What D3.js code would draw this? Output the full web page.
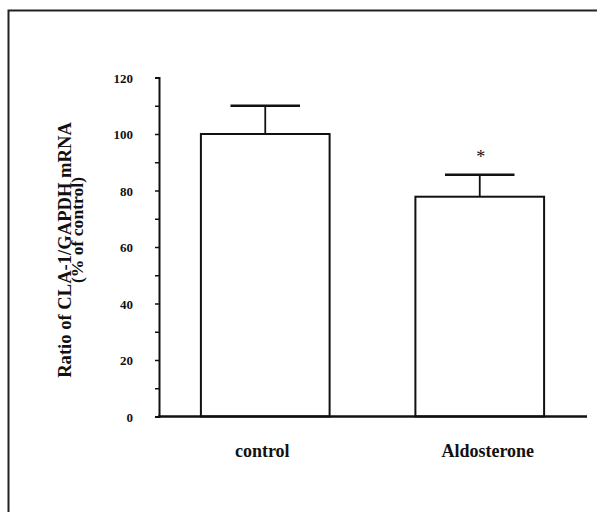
<!DOCTYPE html>
<html lang="en">
<head>
  <meta charset="UTF-8">
  <title>CLA-1 / GAPDH mRNA</title>
  <style>
    body { margin: 0; padding: 0; background: #fff; }
    text { font-family: "Liberation Serif", "DejaVu Serif", serif; font-weight: bold; fill: #111; }
  </style>
</head>
<body>
<svg width="597" height="512"></svg>
<script src="https://d3js.org/d3.v7.min.js"></script>
<script>
// data
const groups = ["control", "Aldosterone"];
const means = [100, 77.8];
const errors = [10, 7.8];
const signif = ["", "*"];
const yTicks = [0, 20, 40, 60, 80, 100, 120];

const svg = d3.select("svg");

// frame around the figure (right and bottom edges fall outside the picture)
svg.append("rect")
  .attr("x", 8.5).attr("y", 10.5)
  .attr("width", 700).attr("height", 700)
  .attr("fill", "none")
  .attr("stroke", "#222")
  .attr("stroke-width", 2);

const y = d3.scaleLinear().domain([0, 120]).range([416.5, 77.5]);
const x = d3.scaleBand().domain(groups)
  .range([158, 587])
  .paddingInner(0.4)
  .paddingOuter(0.2);

// y axis, ticks every 10, labels every 20
const yAxis = d3.axisLeft(y)
  .tickValues(d3.range(0, 121, 10))
  .tickSize(4)
  .tickFormat(d => yTicks.includes(d) ? d : "");

const gy = svg.append("g")
  .attr("transform", "translate(159,0)")
  .attr("font-family", "'Liberation Serif', serif")
  .attr("font-size", 13)
  .call(yAxis);
gy.attr("font-family", "'Liberation Serif', serif").attr("font-size", 13);
gy.select(".domain").attr("stroke", "#111").attr("stroke-width", 2);
gy.selectAll(".tick line").attr("stroke", "#111").attr("stroke-width", 1.5);
gy.selectAll(".tick text")
  .attr("x", -26)
  .attr("dy", "0.36em")
  .style("font-family", "'Liberation Serif', serif")
  .style("font-weight", "bold")
  .style("font-size", "13px")
  .attr("fill", "#111");

// bars
svg.selectAll("rect.bar")
  .data(groups)
  .join("rect")
  .attr("class", "bar")
  .attr("x", d => x(d))
  .attr("y", (d, i) => y(means[i]))
  .attr("width", x.bandwidth())
  .attr("height", (d, i) => y(0) - y(means[i]))
  .attr("fill", "#fff")
  .attr("stroke", "#111")
  .attr("stroke-width", 2);

// x baseline
svg.append("line")
  .attr("x1", 158).attr("x2", 587)
  .attr("y1", y(0)).attr("y2", y(0))
  .attr("stroke", "#111")
  .attr("stroke-width", 2.5);

// error bars (upper only)
const cx = d => x(d) + x.bandwidth() / 2;
const capW = x.bandwidth() * 0.27;
const err = svg.append("g");
err.selectAll("line.stem")
  .data(groups)
  .join("line")
  .attr("x1", cx).attr("x2", cx)
  .attr("y1", (d, i) => y(means[i]))
  .attr("y2", (d, i) => y(means[i] + errors[i]))
  .attr("stroke", "#111").attr("stroke-width", 1.8);
err.selectAll("line.cap")
  .data(groups)
  .join("line")
  .attr("x1", d => cx(d) - capW).attr("x2", d => cx(d) + capW)
  .attr("y1", (d, i) => y(means[i] + errors[i]))
  .attr("y2", (d, i) => y(means[i] + errors[i]))
  .attr("stroke", "#111").attr("stroke-width", 2.5);

// significance mark
svg.selectAll("text.sig")
  .data(groups)
  .join("text")
  .attr("class", "sig")
  .attr("x", d => cx(d) + 1)
  .attr("y", (d, i) => y(means[i] + errors[i]) - 12)
  .attr("text-anchor", "middle")
  .style("font-size", "18px")
  .style("font-weight", "normal")
  .text((d, i) => signif[i]);

// category labels
svg.selectAll("text.cat")
  .data(groups)
  .join("text")
  .attr("class", "cat")
  .attr("x", (d, i) => cx(d) + (i === 0 ? -3 : 8))
  .attr("y", 457)
  .attr("text-anchor", "middle")
  .style("font-size", "18px")
  .text(d => d);

// y axis title, two lines
const title = svg.append("text")
  .attr("transform", "translate(71,250) rotate(-90)")
  .attr("text-anchor", "middle")
  .style("font-size", "18.6px");
title.append("tspan").attr("x", 0).attr("y", 0).text("Ratio of CLA-1/GAPDH mRNA");
title.append("tspan").attr("x", 20).attr("y", 12).style("font-size", "17.6px").text("(% of control)");
</script>
</body>
</html>
